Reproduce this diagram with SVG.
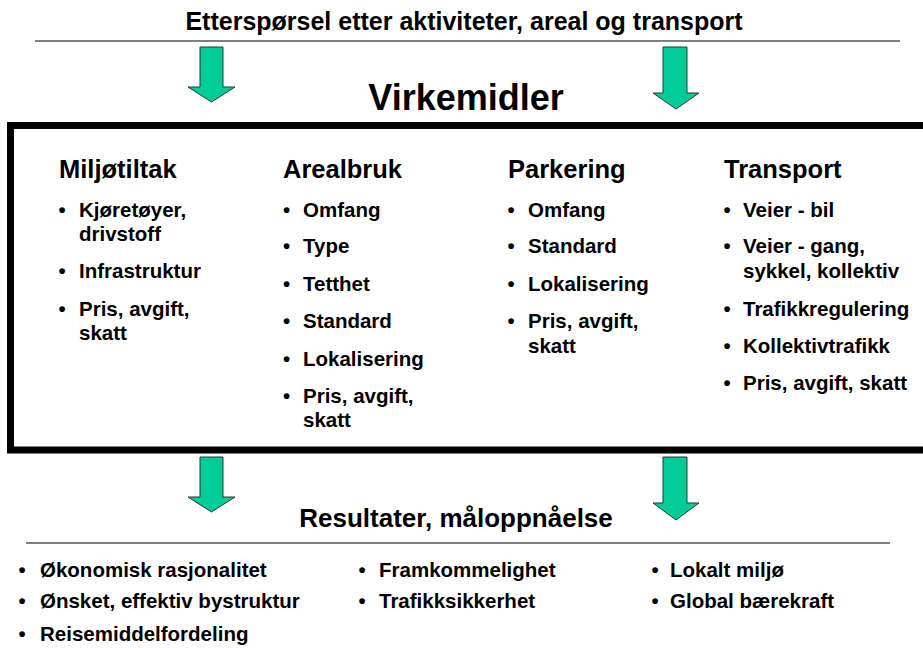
<svg xmlns="http://www.w3.org/2000/svg" width="923" height="648" viewBox="0 0 923 648">
<style>
text{font-family:"Liberation Sans",Arial,sans-serif;font-weight:bold;fill:#000}
.title{font-size:25px}
.big{font-size:36px}
.hdr{font-size:25.5px}
.it{font-size:20.5px}
.bul{font-size:20.5px;text-anchor:middle}
.rule{stroke:#555;stroke-width:1.5}
.arrow{fill:#00CC99;stroke:#333;stroke-width:1}
</style>
<rect width="923" height="648" fill="#fff"/>
<g id="demand">
<text class="title" x="464" y="30" text-anchor="middle">Etterspørsel etter aktiviteter, areal og transport</text>
<line class="rule" x1="35" y1="41" x2="900" y2="41"/>
</g>
<g id="virkemidler">
<text class="big" x="466" y="110" text-anchor="middle">Virkemidler</text>
<rect x="10.5" y="125.5" width="930" height="324.5" fill="none" stroke="#000" stroke-width="7"/>
</g>
<g id="miljotiltak">
<text class="hdr" x="59" y="178">Miljøtiltak</text>
<text class="bul" x="62" y="217">•</text><text class="it" x="79" y="217">Kjøretøyer,</text>
<text class="it" x="79" y="241">drivstoff</text>
<text class="bul" x="62" y="278">•</text><text class="it" x="79" y="278">Infrastruktur</text>
<text class="bul" x="62" y="316">•</text><text class="it" x="79" y="316">Pris, avgift,</text>
<text class="it" x="79" y="340">skatt</text>
</g>
<g id="arealbruk">
<text class="hdr" x="283" y="178">Arealbruk</text>
<text class="bul" x="286.5" y="217">•</text><text class="it" x="303" y="217">Omfang</text>
<text class="bul" x="286.5" y="253">•</text><text class="it" x="303" y="253">Type</text>
<text class="bul" x="286.5" y="291">•</text><text class="it" x="303" y="291">Tetthet</text>
<text class="bul" x="286.5" y="328">•</text><text class="it" x="303" y="328">Standard</text>
<text class="bul" x="286.5" y="366">•</text><text class="it" x="303" y="366">Lokalisering</text>
<text class="bul" x="286.5" y="403">•</text><text class="it" x="303" y="403">Pris, avgift,</text>
<text class="it" x="303" y="427">skatt</text>
</g>
<g id="parkering">
<text class="hdr" x="508" y="178">Parkering</text>
<text class="bul" x="511" y="217">•</text><text class="it" x="528" y="217">Omfang</text>
<text class="bul" x="511" y="253">•</text><text class="it" x="528" y="253">Standard</text>
<text class="bul" x="511" y="291">•</text><text class="it" x="528" y="291">Lokalisering</text>
<text class="bul" x="511" y="328">•</text><text class="it" x="528" y="328">Pris, avgift,</text>
<text class="it" x="528" y="353">skatt</text>
</g>
<g id="transport">
<text class="hdr" x="724" y="178">Transport</text>
<text class="bul" x="727" y="217">•</text><text class="it" x="743" y="217">Veier - bil</text>
<text class="bul" x="727" y="253">•</text><text class="it" x="743" y="253">Veier - gang,</text>
<text class="it" x="743" y="278">sykkel, kollektiv</text>
<text class="bul" x="727" y="316">•</text><text class="it" x="743" y="316">Trafikkregulering</text>
<text class="bul" x="727" y="353">•</text><text class="it" x="743" y="353">Kollektivtrafikk</text>
<text class="bul" x="727" y="390">•</text><text class="it" x="743" y="390">Pris, avgift, skatt</text>
</g>
<g id="resultater">
<text class="title" x="456" y="527" text-anchor="middle" style="font-size:26px">Resultater, måloppnåelse</text>
<line class="rule" x1="26" y1="543" x2="890" y2="543"/>
<text class="bul" x="22" y="577">•</text><text class="it" x="40" y="577">Økonomisk rasjonalitet</text>
<text class="bul" x="22" y="608">•</text><text class="it" x="40" y="608">Ønsket, effektiv bystruktur</text>
<text class="bul" x="22" y="641">•</text><text class="it" x="40" y="641">Reisemiddelfordeling</text>
<text class="bul" x="362" y="577">•</text><text class="it" x="379" y="577">Framkommelighet</text>
<text class="bul" x="362" y="608">•</text><text class="it" x="379" y="608">Trafikksikkerhet</text>
<text class="bul" x="655" y="577">•</text><text class="it" x="670" y="577">Lokalt miljø</text>
<text class="bul" x="655" y="608">•</text><text class="it" x="670" y="608">Global bærekraft</text>
</g>
<g id="connectors">
<path class="arrow" d="M200,47 H223 V87 H235 L211.5,102 L188,87 H200 Z"/>
<path class="arrow" d="M663,47 H687 V93 H699 L676,109 L653,93 H663 Z"/>
<path class="arrow" d="M200,457 H223 V497 H235 L211.5,512 L188,497 H200 Z"/>
<path class="arrow" d="M663,457 H687 V503 H699 L676,520 L653,503 H663 Z"/>
</g>
</svg>
